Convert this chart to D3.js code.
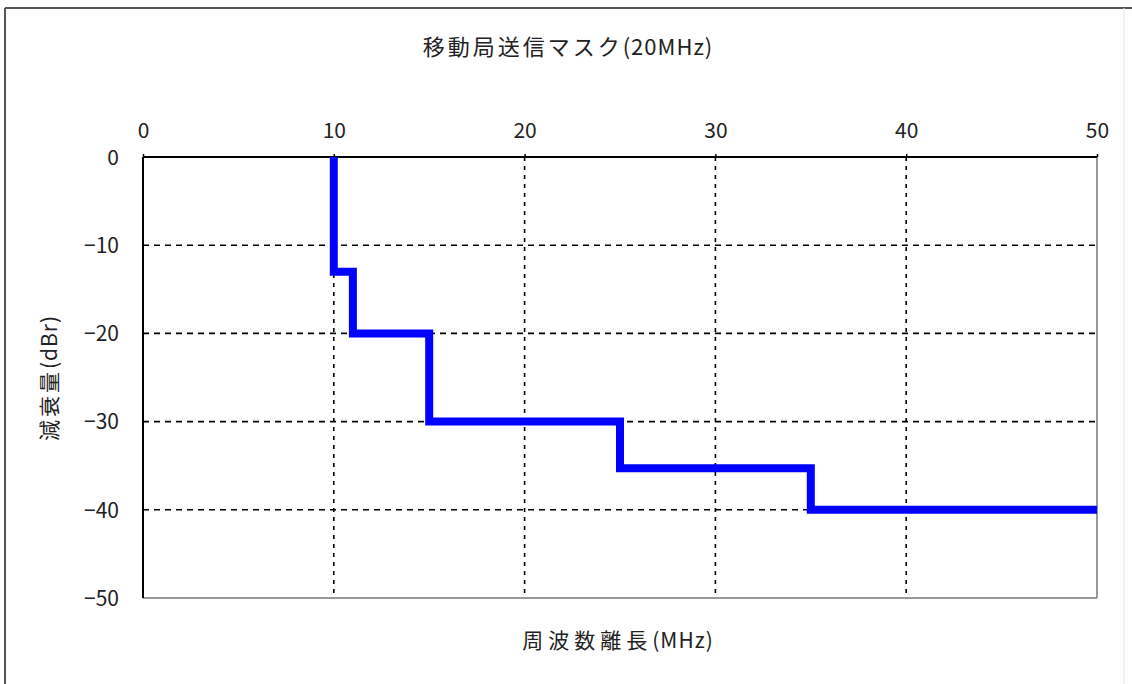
<!DOCTYPE html>
<html><head><meta charset="utf-8">
<script src="https://cdn.jsdelivr.net/npm/d3@7"></script>
<style>body{margin:0;background:#fff;}svg{display:block;}</style>
</head><body>
<svg id="c" width="1132" height="684"></svg>
<script>
const titleParts = ["移動局送信マスク", "(20MHz)"];
const xLabelParts = ["周波数離長", "(MHz)"];
const yLabelParts = ["減衰量", "(dBr)"];
const xTicks = [0, 10, 20, 30, 40, 50];
const yTicks = [0, -10, -20, -30, -40, -50];
const maskX = [10, 10, 11, 11, 15, 15, 25, 25, 35, 35, 50];
const maskY = [0, -13, -13, -20, -20, -30, -30, -35.3, -35.3, -40, -40];

const svg = d3.select("#c");
const m = {l:143, r:1097, t:157, b:598};
const x = d3.scaleLinear().domain([0,50]).range([m.l, m.r]);
const y = d3.scaleLinear().domain([0,-50]).range([m.t, m.b]);
const font = "'Noto Sans CJK JP', 'DejaVu Sans', sans-serif";

// outer border
svg.append("line").attr("x1",5).attr("x2",5).attr("y1",8).attr("y2",684).attr("stroke","#555").attr("stroke-width",2);
svg.append("line").attr("x1",5).attr("x2",1132).attr("y1",8).attr("y2",8).attr("stroke","#555").attr("stroke-width",2);
svg.append("line").attr("x1",1124).attr("x2",1124).attr("y1",8).attr("y2",684).attr("stroke","#e4e4e4").attr("stroke-width",1);

// grid
svg.append("g").selectAll("line").data(xTicks.filter(d=>d>0&&d<50)).join("line")
  .attr("x1",d=>x(d)).attr("x2",d=>x(d)).attr("y1",m.t).attr("y2",m.b)
  .attr("stroke","#000").attr("stroke-width",1.6).attr("stroke-dasharray","4,5");
svg.append("g").selectAll("line").data(yTicks.filter(d=>d<0&&d>-50)).join("line")
  .attr("x1",m.l).attr("x2",m.r).attr("y1",d=>y(d)).attr("y2",d=>y(d))
  .attr("stroke","#000").attr("stroke-width",1.6).attr("stroke-dasharray","6,5");

// frame
svg.append("line").attr("x1",m.l).attr("x2",m.r).attr("y1",m.b).attr("y2",m.b).attr("stroke","#777").attr("stroke-width",1.5);
svg.append("line").attr("x1",m.r).attr("x2",m.r).attr("y1",m.t).attr("y2",m.b).attr("stroke","#777").attr("stroke-width",1.5);

// axes
const xa = svg.append("g").attr("transform",`translate(0,${m.t})`)
  .call(d3.axisTop(x).tickValues(xTicks).tickSize(3).tickPadding(16).tickFormat(d3.format("d")));
const ya = svg.append("g").attr("transform",`translate(${m.l},0)`)
  .call(d3.axisLeft(y).tickValues(yTicks).tickSize(0).tickPadding(24).tickFormat(d=>d<0?"\u2212"+Math.abs(d):d));
[xa,ya].forEach(a=>{
  a.select(".domain").attr("stroke","#000").attr("stroke-width",2);
  a.selectAll(".tick line").attr("stroke","#000").attr("stroke-width",1.5);
  a.selectAll("text").attr("font-family",font).attr("font-size",21).attr("fill","#222");
});
xa.select(".domain").attr("d",`M${m.l},0H${m.r}`);
ya.select(".domain").attr("d",`M0,${m.t}V${m.b}`);
ya.selectAll("text").attr("dy","0.35em");

// mask line
const pts = maskX.map((v,i)=>[v, maskY[i]]);
svg.append("path").datum(pts)
  .attr("d", d3.line().x(d=>x(d[0])).y(d=>y(d[1])))
  .attr("fill","none").attr("stroke","#0000ff").attr("stroke-width",8)
  .attr("stroke-linejoin","miter").attr("stroke-linecap","butt");

// labels
function label(parts, size, spacing, transform) {
  const t = svg.append("text").attr("transform", transform).attr("text-anchor","middle")
    .attr("font-family",font).attr("font-size",size).attr("fill","#222");
  t.append("tspan").attr("letter-spacing",spacing).text(parts[0]);
  t.append("tspan").attr("letter-spacing",1).text(parts[1]);
  return t;
}
label(titleParts, 22, 3, "translate(568,55)");
label(xLabelParts, 21, 5, "translate(618,648)");
label(yLabelParts, 21, 3, "translate(57,378) rotate(-90)");
</script>
</body></html>
